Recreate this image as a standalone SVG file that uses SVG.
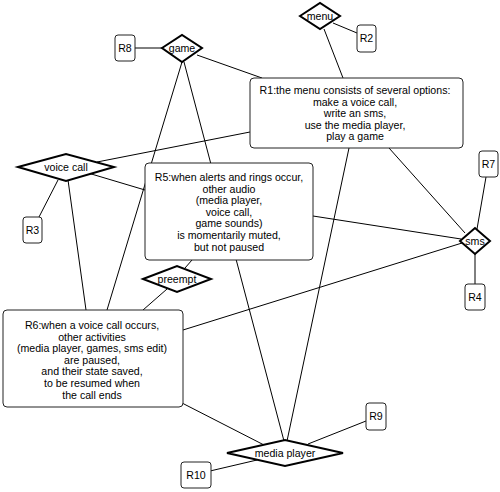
<svg xmlns="http://www.w3.org/2000/svg" width="500" height="492" viewBox="0 0 500 492">
<style>
.bg{fill:#fff}
.c line{stroke:#000;stroke-width:1;fill:none}
.d{fill:#fff;stroke:#000;stroke-width:2;stroke-linejoin:miter}
.r{fill:#fff;stroke:#222;stroke-width:1}
text{font-family:"Liberation Sans",Arial,sans-serif;font-size:10.6px;fill:#000;text-anchor:middle}
</style>
<rect class="bg" x="0" y="0" width="500" height="492"/>
<g id="connectors" class="c">
<line x1="333" y1="23" x2="357" y2="33"/>
<line x1="324" y1="29" x2="343" y2="78"/>
<line x1="135" y1="48" x2="162" y2="48"/>
<line x1="197" y1="55" x2="262" y2="78"/>
<line x1="182" y1="62" x2="107" y2="310"/>
<line x1="184" y1="62" x2="284" y2="441"/>
<line x1="97" y1="162" x2="250" y2="132"/>
<line x1="58" y1="180" x2="39" y2="217"/>
<line x1="68" y1="180" x2="86" y2="310"/>
<line x1="88" y1="173" x2="145" y2="190"/>
<line x1="313" y1="216" x2="461" y2="239"/>
<line x1="389" y1="148" x2="465" y2="233"/>
<line x1="349" y1="148" x2="287" y2="441"/>
<line x1="183" y1="330" x2="462" y2="243"/>
<line x1="477" y1="229" x2="486" y2="177"/>
<line x1="475" y1="254" x2="475" y2="284"/>
<line x1="185" y1="268" x2="192" y2="260"/>
<line x1="167" y1="289" x2="143" y2="310"/>
<line x1="182" y1="403" x2="266" y2="446"/>
<line x1="308" y1="444" x2="366" y2="421"/>
<line x1="210" y1="471" x2="257" y2="460"/>
</g>
<g id="menu"><polygon class="d" points="300,16 320,3 340,16 320,29"/><text x="320" y="20">menu</text></g>
<g id="R2"><rect class="r" x="357" y="25" width="19" height="27" rx="3"/><text x="366.5" y="42">R2</text></g>
<g id="game"><polygon class="d" points="162,48 182,35 202,48 182,62"/><text x="182" y="52">game</text></g>
<g id="R8"><rect class="r" x="115" y="35" width="20" height="26" rx="3"/><text x="125" y="52">R8</text></g>
<g id="R1"><rect class="r" x="250" y="78" width="213" height="70" rx="4"/>
<text x="355" y="94">R1:the menu consists of several options:<tspan x="355" dy="11.6">make a voice call,</tspan><tspan x="355" dy="11.6">write an sms,</tspan><tspan x="355" dy="11.6">use the media player,</tspan><tspan x="355" dy="11.6">play a game</tspan></text></g>
<g id="voice-call"><polygon class="d" points="18,167 66,154 114,167 66,181"/><text x="66" y="171">voice call</text></g>
<g id="R3"><rect class="r" x="23" y="217" width="19" height="26" rx="3"/><text x="32.5" y="234">R3</text></g>
<g id="R5"><rect class="r" x="145" y="163" width="168" height="97" rx="4"/>
<text x="229" y="181">R5:when alerts and rings occur,<tspan x="229" dy="11.6">other audio</tspan><tspan x="229" dy="11.6">(media player,</tspan><tspan x="229" dy="11.6">voice call,</tspan><tspan x="229" dy="11.6">game sounds)</tspan><tspan x="229" dy="11.6">is momentarily muted,</tspan><tspan x="229" dy="11.6">but not paused</tspan></text></g>
<g id="R7"><rect class="r" x="479" y="151" width="19" height="26" rx="3"/><text x="488.5" y="168">R7</text></g>
<g id="sms"><polygon class="d" points="460,241 475,228 490,241 475,254"/><text x="475" y="245">sms</text></g>
<g id="R4"><rect class="r" x="465" y="284" width="20" height="26" rx="3"/><text x="475" y="301">R4</text></g>
<g id="preempt"><polygon class="d" points="143,279 177,266 211,279 177,292"/><text x="177" y="283">preempt</text></g>
<g id="R6"><rect class="r" x="3" y="310" width="180" height="97" rx="4"/>
<text x="92" y="329">R6:when a voice call occurs,<tspan x="92" dy="11.6">other activities</tspan><tspan x="92" dy="11.6">(media player, games, sms edit)</tspan><tspan x="92" dy="11.6">are paused,</tspan><tspan x="92" dy="11.6">and their state saved,</tspan><tspan x="92" dy="11.6">to be resumed when</tspan><tspan x="92" dy="11.6">the call ends</tspan></text></g>
<g id="R9"><rect class="r" x="366" y="403" width="20" height="27" rx="3"/><text x="376" y="420">R9</text></g>
<g id="media-player"><polygon class="d" points="227,453 285,440 343,453 285,466"/><text x="285" y="457">media player</text></g>
<g id="R10"><rect class="r" x="181" y="462" width="30" height="26" rx="3"/><text x="196" y="479">R10</text></g>
</svg>
